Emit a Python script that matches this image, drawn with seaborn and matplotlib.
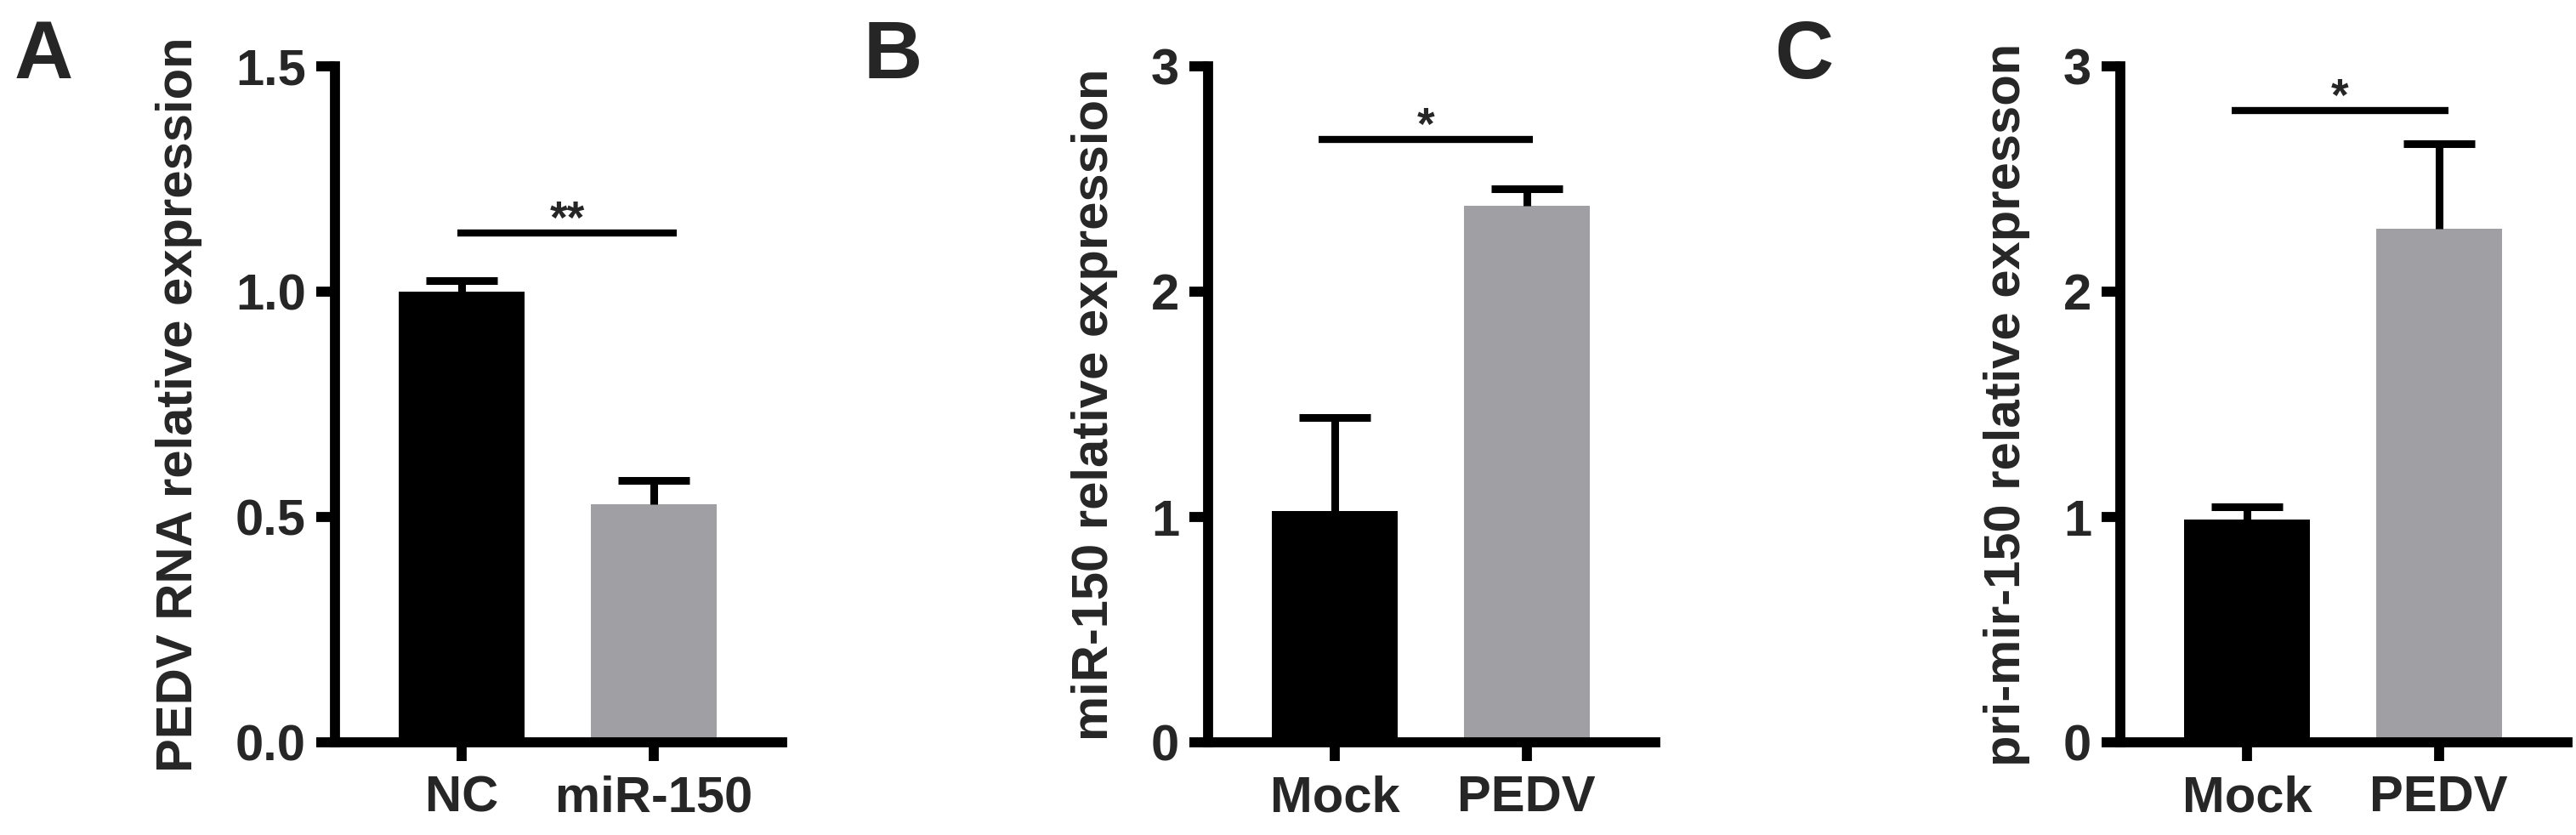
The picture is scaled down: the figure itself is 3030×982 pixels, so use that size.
import numpy as np
import pandas as pd
import matplotlib
matplotlib.use("Agg")
import matplotlib.pyplot as plt
import seaborn as sns

# values (mean, upper error)
groups_a = ["NC", "miR-150"]
means_a = [1.0, 0.528]
errs_a = [0.025, 0.053]

groups_b = ["Mock", "PEDV"]
means_b = [1.028, 2.381]
errs_b = [0.413, 0.076]

groups_c = ["Mock", "PEDV"]
means_c = [0.987, 2.28]
errs_c = [0.057, 0.377]

ylabels = ["PEDV RNA relative expression",
           "miR-150 relative expression",
           "pri-mir-150 relative expresson"]
yticks_a = [0.0, 0.5, 1.0, 1.5]
yticks_bc = [0, 1, 2, 3]
panel_letters = ["A", "B", "C"]

# significance bars: start, end, height, label
sig_x0 = [-0.02, -0.085, -0.08]
sig_x1 = [1.12, 1.034, 1.05]
sig_y = [1.13, 2.676, 2.804]
sig_text = ["**", "*", "*"]

bar_colors = ["#000000", "#a0a0a4"]

sns.set_theme(style="ticks")
plt.rcParams["font.family"] = ["Liberation Sans", "DejaVu Sans"]
plt.rcParams["font.weight"] = "bold"

fig = plt.figure(figsize=(30.3, 9.82), dpi=100)

lefts = [394 / 3030, 1421 / 3030, 2494 / 3030]
bottom = (982 - 873) / 982
height = (873 - 78) / 982
width = 526 / 3030

panels = [(groups_a, means_a, errs_a, 1.5, yticks_a, "{:.1f}"),
          (groups_b, means_b, errs_b, 3, yticks_bc, "{:d}"),
          (groups_c, means_c, errs_c, 3, yticks_bc, "{:d}")]

letter_x = [17 / 3030, 1016 / 3030, 2087 / 3030]

for i, (groups, means, errs, ymax, yticks, fmt) in enumerate(panels):
    ax = fig.add_axes([lefts[i], bottom, width, height])
    df = pd.DataFrame({"group": groups, "value": means})
    sns.barplot(data=df, x="group", y="value", hue="group", palette=bar_colors,
                width=0.655, errorbar=None, legend=False, linewidth=0, ax=ax)
    eb = ax.errorbar(range(len(groups)), means, yerr=[np.zeros(len(errs)), errs],
                     fmt="none", ecolor="black", elinewidth=6.5, capsize=30,
                     capthick=6.5, zorder=3)
    # only the upper cap is drawn in the original
    eb[1][0].set_visible(False)

    # significance line and stars
    ax.plot([sig_x0[i], sig_x1[i]], [sig_y[i], sig_y[i]], color="black",
            lw=6, solid_capstyle="butt", clip_on=False)
    ax.text((sig_x0[i] + sig_x1[i]) / 2, sig_y[i], sig_text[i],
            ha="center", va="baseline", fontsize=38, fontweight="bold")

    ax.set_xlim(-0.66, 1.67)
    ax.set_ylim(0, ymax)
    ax.set_yticks(yticks)
    ax.set_yticklabels([fmt.format(t) for t in yticks])
    ax.set_xlabel("")
    ax.set_ylabel(ylabels[i], fontsize=43, fontweight="bold", labelpad=28)

    for s in ["top", "right"]:
        ax.spines[s].set_visible(False)
    for s in ["left", "bottom"]:
        ax.spines[s].set_linewidth(8.5)
        ax.spines[s].set_color("black")
    ax.tick_params(axis="both", direction="out", length=15.5, width=8.5,
                   color="black", labelsize=43)
    ax.tick_params(axis="y", pad=9)
    ax.tick_params(axis="x", pad=12)
    for lab in ax.get_xticklabels() + ax.get_yticklabels():
        lab.set_fontweight("bold")

    fig.text(letter_x[i], 1 - 22 / 982, panel_letters[i], fontsize=69,
             fontweight="bold", ha="left", va="top")

fig.savefig("out.png", dpi=100)
